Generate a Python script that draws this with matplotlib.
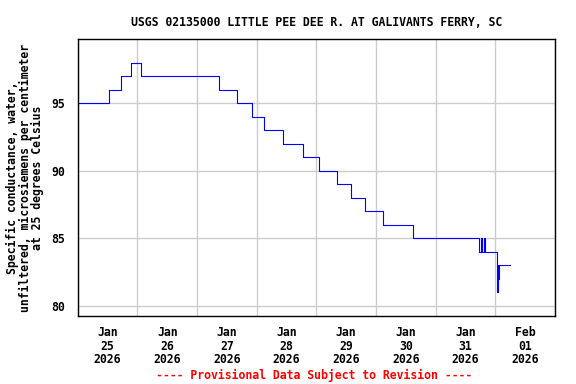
import matplotlib
matplotlib.use("Agg")
import matplotlib.pyplot as plt
import matplotlib.dates as mdates
import pandas as pd

# Specific conductance readings (step changes), USGS 02135000
times = [
    "2026-01-25 00:00", "2026-01-25 12:45", "2026-01-25 17:15", "2026-01-25 21:15",
    "2026-01-26 01:30", "2026-01-27 09:00", "2026-01-27 16:15", "2026-01-27 22:15",
    "2026-01-28 02:45", "2026-01-28 10:45", "2026-01-28 18:30", "2026-01-29 01:15",
    "2026-01-29 08:15", "2026-01-29 14:00", "2026-01-29 19:30", "2026-01-30 03:00",
    "2026-01-30 14:45", "2026-01-31 17:30", "2026-01-31 18:15", "2026-01-31 18:45",
    "2026-01-31 19:15", "2026-01-31 19:45", "2026-02-01 00:30", "2026-02-01 00:45",
    "2026-02-01 01:00", "2026-02-01 01:15", "2026-02-01 01:30", "2026-02-01 05:45",
]
conductance = [
    95, 96, 97, 98,
    97, 96, 95, 94,
    93, 92, 91, 90,
    89, 88, 87, 86,
    85, 84, 85, 84,
    85, 84, 83, 81,
    83, 82, 83, 83,
]
y_ticks = [80, 85, 90, 95]
x_start, x_end = "2026-01-25", "2026-02-02"

title = "USGS 02135000 LITTLE PEE DEE R. AT GALIVANTS FERRY, SC"
ylabel = ("Specific conductance, water,\n"
          "unfiltered, microsiemens per centimeter\n"
          "at 25 degrees Celsius")
footer = "---- Provisional Data Subject to Revision ----"

font = dict(family="DejaVu Sans Mono", weight="bold", size=8.3)

t = pd.to_datetime(times)

fig = plt.figure(figsize=(5.76, 3.84), dpi=100)
ax = fig.add_axes([0.1349, 0.1779, 0.8286, 0.7198])

ax.plot(t, conductance, drawstyle="steps-post", color="#0000ff", lw=0.8)

ax.set_xlim(pd.Timestamp(x_start), pd.Timestamp(x_end))
ax.set_ylim(79.27, 99.74)

# labels at noon, grid lines at midnight
ax.xaxis.set_major_locator(mdates.HourLocator(byhour=[12]))
ax.xaxis.set_major_formatter(mdates.DateFormatter("%b\n%d\n%Y"))
ax.xaxis.set_minor_locator(mdates.DayLocator())
ax.set_yticks(y_ticks)

ax.grid(False)
ax.grid(True, which="minor", axis="x", color="#cccccc", lw=1)
ax.grid(True, which="major", axis="y", color="#cccccc", lw=1)
ax.tick_params(which="both", length=0)
ax.tick_params(axis="y", pad=9)
ax.tick_params(axis="x", pad=7.5)

for lab in ax.get_xticklabels() + ax.get_yticklabels():
    lab.set_fontfamily(font["family"])
    lab.set_fontweight(font["weight"])
    lab.set_fontsize(font["size"])
for lab in ax.get_xticklabels():
    lab.set_linespacing(1.05)

for s in ax.spines.values():
    s.set_linewidth(1)
    s.set_color("black")

cx = 0.5493
fig.text(cx, 1 - 22 / 384, title, ha="center", va="center", **font)
fig.text(25 / 576, 1 - 177.5 / 384, ylabel, rotation=90, ha="center", va="center",
         multialignment="center", linespacing=0.92, **font)
fig.text(0.545, 1 - 375 / 384, footer, ha="center", va="center", color="red", **font)

fig.savefig("out.png", dpi=100)
